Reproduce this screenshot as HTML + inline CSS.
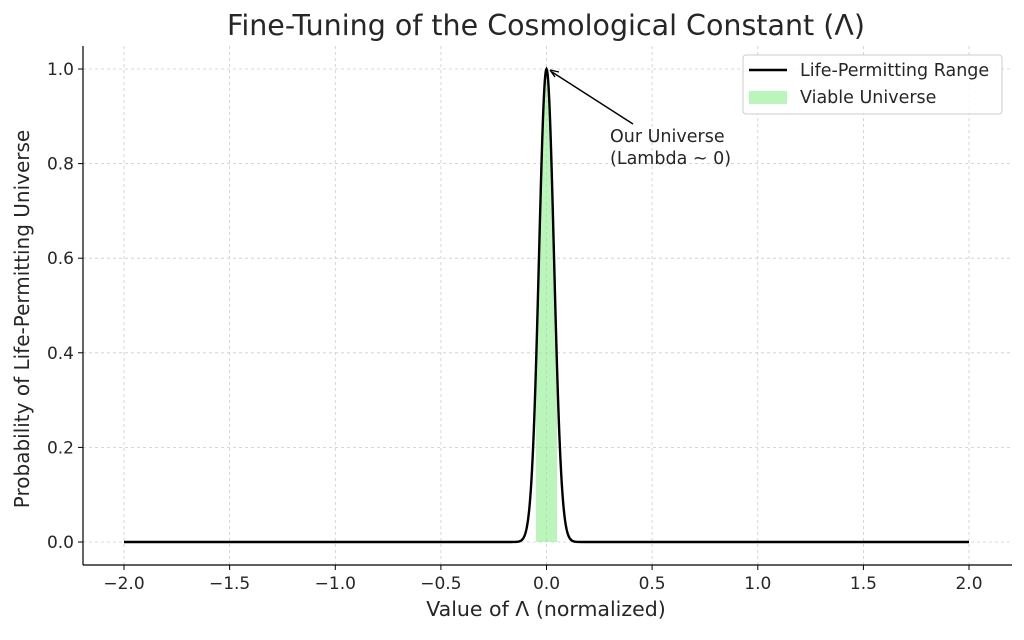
<!DOCTYPE html>
<html><head><meta charset="utf-8"><style>
body{margin:0;background:#fff;}
svg text{font-family:"DejaVu Sans","Liberation Sans",sans-serif;fill:#262626;}
</style></head><body>
<svg id="s" width="1024" height="635" viewBox="0 0 1024 635" xmlns="http://www.w3.org/2000/svg">
<rect width="1024" height="635" fill="#fff"/>
<g stroke="#ccc" stroke-width="0.8" stroke-dasharray="3,3">
<line x1="124" y1="46" x2="124" y2="565"/><line x1="229.6" y1="46" x2="229.6" y2="565"/><line x1="335.3" y1="46" x2="335.3" y2="565"/><line x1="440.9" y1="46" x2="440.9" y2="565"/><line x1="546.5" y1="46" x2="546.5" y2="565"/><line x1="652.1" y1="46" x2="652.1" y2="565"/><line x1="757.8" y1="46" x2="757.8" y2="565"/><line x1="863.4" y1="46" x2="863.4" y2="565"/><line x1="969" y1="46" x2="969" y2="565"/>
<line x1="83" y1="542" x2="1012" y2="542"/><line x1="83" y1="447.4" x2="1012" y2="447.4"/><line x1="83" y1="352.8" x2="1012" y2="352.8"/><line x1="83" y1="258.2" x2="1012" y2="258.2"/><line x1="83" y1="163.6" x2="1012" y2="163.6"/><line x1="83" y1="69" x2="1012" y2="69"/>
</g>
<path id="fill" fill="#90ee90" fill-opacity="0.6"/>
<path id="curve" fill="none" stroke="#000" stroke-width="2.4"/>
<g stroke="#000" stroke-width="1.2">
<line x1="83" y1="46" x2="83" y2="565"/><line x1="83" y1="565" x2="1012" y2="565"/>
</g>
<g stroke="#000" stroke-width="1">
<line x1="124" y1="565" x2="124" y2="570"/><line x1="229.6" y1="565" x2="229.6" y2="570"/><line x1="335.3" y1="565" x2="335.3" y2="570"/><line x1="440.9" y1="565" x2="440.9" y2="570"/><line x1="546.5" y1="565" x2="546.5" y2="570"/><line x1="652.1" y1="565" x2="652.1" y2="570"/><line x1="757.8" y1="565" x2="757.8" y2="570"/><line x1="863.4" y1="565" x2="863.4" y2="570"/><line x1="969" y1="565" x2="969" y2="570"/>
<line x1="78" y1="542" x2="83" y2="542"/><line x1="78" y1="447.4" x2="83" y2="447.4"/><line x1="78" y1="352.8" x2="83" y2="352.8"/><line x1="78" y1="258.2" x2="83" y2="258.2"/><line x1="78" y1="163.6" x2="83" y2="163.6"/><line x1="78" y1="69" x2="83" y2="69"/>
</g>
<g font-size="17" text-anchor="middle">
<text x="124" y="589">−2.0</text><text x="229.6" y="589">−1.5</text><text x="335.3" y="589">−1.0</text><text x="440.9" y="589">−0.5</text><text x="546.5" y="589">0.0</text><text x="652.1" y="589">0.5</text><text x="757.8" y="589">1.0</text><text x="863.4" y="589">1.5</text><text x="969" y="589">2.0</text>
</g>
<g font-size="17" text-anchor="end">
<text x="74" y="548">0.0</text><text x="74" y="453.4">0.2</text><text x="74" y="358.8">0.4</text><text x="74" y="264.2">0.6</text><text x="74" y="169.6">0.8</text><text x="74" y="75">1.0</text>
</g>
<text x="546" y="616" font-size="20.5" text-anchor="middle">Value of Λ (normalized)</text>
<text transform="translate(29,319) rotate(-90)" font-size="20" text-anchor="middle">Probability of Life-Permitting Universe</text>
<text x="546" y="35" font-size="28.5" text-anchor="middle">Fine-Tuning of the Cosmological Constant (Λ)</text>
<line x1="633" y1="124" x2="552" y2="72" stroke="#000" stroke-width="1.4"/>
<path d="M550 70 L559 72 M550 70 L555 77" stroke="#000" stroke-width="1.4" fill="none"/>
<text x="610" y="142" font-size="17.5">Our Universe</text>
<text x="610" y="164" font-size="17.5">(Lambda ~ 0)</text>
<rect x="743" y="55" width="259" height="59" rx="3" fill="#fff" fill-opacity="0.85" stroke="#ccc"/>
<line x1="749" y1="70" x2="787" y2="70" stroke="#000" stroke-width="2.4"/>
<rect x="749" y="91" width="38" height="13" fill="#90ee90" fill-opacity="0.6"/>
<text x="800" y="76" font-size="17.5">Life-Permitting Range</text>
<text x="800" y="103" font-size="17.5">Viable Universe</text>
</svg>
<script>
var X=function(v){return 546.5+v*211.25},Y=function(v){return 542-v*473};
var f=function(x){return Math.exp(-(x/0.05)*(x/0.05))};
var d="",n=2000;
for(var i=0;i<=n;i++){var x=-2+4*i/n;d+=(i?"L":"M")+X(x).toFixed(2)+" "+Y(f(x)).toFixed(2);}
document.getElementById("curve").setAttribute("d",d);
var g="M"+X(-0.05)+" "+Y(0);
for(var i=0;i<=200;i++){var x=-0.05+0.1*i/200;g+="L"+X(x).toFixed(2)+" "+Y(f(x)).toFixed(2);}
g+="L"+X(0.05)+" "+Y(0)+"Z";
document.getElementById("fill").setAttribute("d",g);
</script>
</body></html>
